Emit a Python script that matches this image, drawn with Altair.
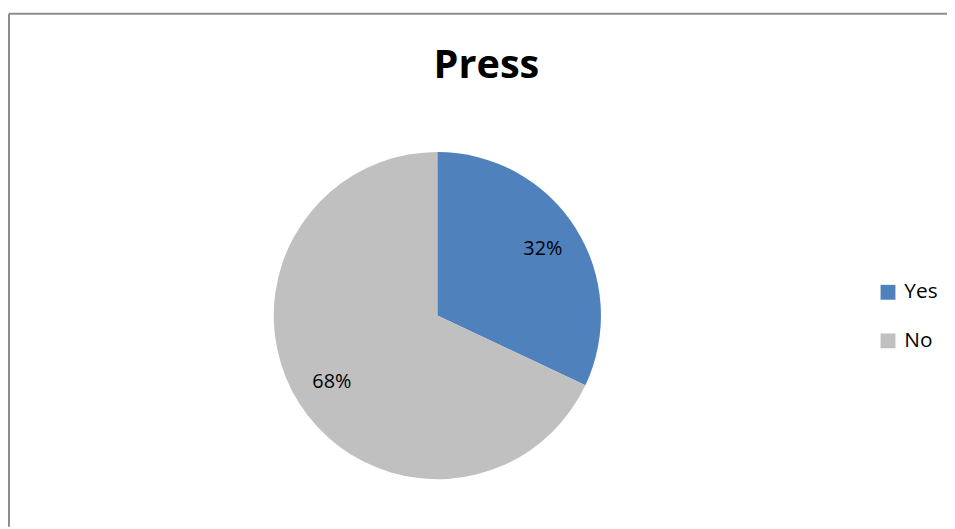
import altair as alt
import pandas as pd

categories = ["Yes", "No"]
values = [32, 68]
labels = ["32%", "68%"]
colors = ["#4F81BD", "#C0C0C0"]

df = pd.DataFrame({"cat": categories, "value": values, "label": labels, "ord": [0, 1]})
frame = pd.DataFrame({"k": [0]})

FONT = "Open Sans"
CX, CY = 431, 308

base = alt.Chart(df).encode(
    theta=alt.Theta("value:Q", stack=True),
    order=alt.Order("ord:Q"),
    x=alt.value(CX),
    y=alt.value(CY),
)

pie = base.mark_arc(outerRadius=165).encode(
    color=alt.Color(
        "cat:N",
        scale=alt.Scale(domain=categories, range=colors),
        sort=categories,
        legend=alt.Legend(
            title=None,
            orient="none",
            legendX=875,
            legendY=274,
            symbolType="square",
            symbolSize=225,
            symbolStrokeWidth=0,
            labelFont=FONT,
            labelFontSize=21,
            labelColor="#000000",
            rowPadding=27,
            labelOffset=6,
        ),
    )
)

text = base.mark_text(radius=126, font=FONT, fontSize=20, color="#000000").encode(
    text="label:N"
)

top_rule = alt.Chart(frame).mark_rule(color="#8c8c8c", strokeWidth=2).encode(
    x=alt.value(-1), x2=alt.value(946), y=alt.value(3.5)
)
left_rule = alt.Chart(frame).mark_rule(color="#8c8c8c", strokeWidth=2).encode(
    x=alt.value(-1), y=alt.value(3.5), y2=alt.value(521)
)

chart = (
    alt.layer(pie, text, top_rule, left_rule)
    .properties(
        width=947,
        height=521,
        autosize=alt.AutoSizeParams(type="fit", contains="padding"),
        padding=0,
        background="white",
        title=alt.TitleParams(
            "Press", font=FONT, fontSize=40, fontWeight="bold", color="#000000",
            anchor="middle", offset=-76, dx=8,
        ),
    )
    .configure_view(stroke=None, strokeWidth=0)
)

chart.save("out.html", embed_options={"renderer": "svg", "actions": False})
